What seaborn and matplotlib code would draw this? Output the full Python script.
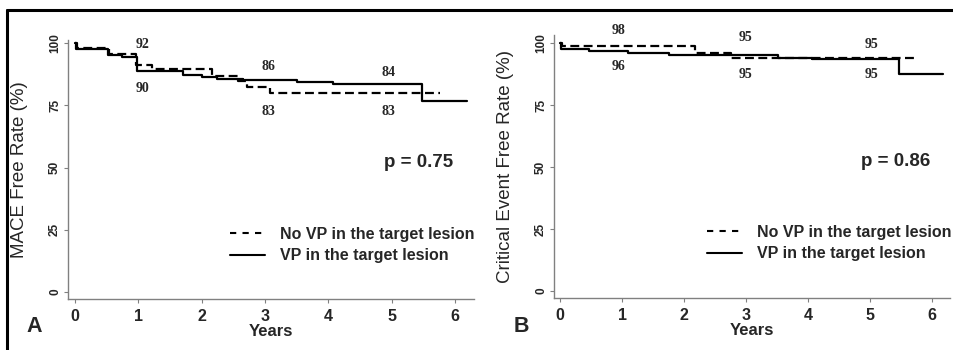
import numpy as np
import pandas as pd
import matplotlib
matplotlib.use("Agg")
import matplotlib.pyplot as plt
import seaborn as sns
from matplotlib.lines import Line2D

# ---------------- data ----------------
groups = ["No VP in the target lesion", "VP in the target lesion"]

# Panel A: MACE free rate (step changes)
a_novp_t = [0.0, 0.03, 0.53, 0.97, 1.21, 2.16, 2.58, 2.71, 3.08, 5.77]
a_novp_s = [100.0, 98.0, 95.7, 91.3, 89.4, 86.6, 84.6, 82.4, 79.8, 79.8]
a_vp_t = [0.0, 0.02, 0.52, 0.75, 0.98, 1.71, 2.0, 2.24, 2.66, 3.5, 4.07, 5.48, 6.19]
a_vp_s = [100.0, 97.6, 95.2, 94.2, 88.9, 87.0, 86.2, 85.6, 85.2, 84.4, 83.4, 76.6, 76.6]

# Panel B: critical event free rate
b_novp_t = [0.0, 0.03, 2.18, 2.75, 5.78]
b_novp_s = [100.0, 98.9, 96.2, 94.0, 94.0]
b_vp_t = [0.0, 0.02, 0.46, 1.1, 1.75, 3.52, 4.06, 5.46, 6.18]
b_vp_s = [100.0, 97.8, 96.9, 96.1, 95.5, 94.3, 93.7, 87.6, 87.6]

a_labels_txt = ["92", "90", "86", "83", "84", "83"]
a_labels_x = [1.07, 1.07, 3.05, 3.05, 4.95, 4.95]
a_labels_y = [99.2, 81.6, 90.6, 72.6, 88.2, 72.6]
b_labels_txt = ["98", "96", "95", "95", "95", "95"]
b_labels_x = [0.95, 0.95, 2.99, 2.99, 5.03, 5.03]
b_labels_y = [105.4, 90.6, 102.4, 87.6, 99.7, 87.6]

p_a = "p = 0.75"
p_b = "p = 0.86"
xticks = [0, 1, 2, 3, 4, 5, 6]
yticks = [0, 25, 50, 75, 100]

# --------------- style ----------------
sns.set_theme(style="white")
plt.rcParams["font.family"] = ["Liberation Sans", "DejaVu Sans"]

fig = plt.figure(figsize=(9.54, 3.5), dpi=100)
W, H = 954, 350
axA = fig.add_axes([68 / W, 1 - 299 / H, (474 - 68) / W, (299 - 40) / H])
axB = fig.add_axes([554 / W, 1 - 298 / H, (950 - 554) / W, (298 - 35) / H])

dash_style = (0, (4, 2))


def make_df(t1, s1, t2, s2):
    return pd.concat([
        pd.DataFrame({"t": t1, "s": s1, "g": groups[0]}),
        pd.DataFrame({"t": t2, "s": s2, "g": groups[1]}),
    ], ignore_index=True)


def draw(ax, df, xlim, ylim, ylabel, lab_txt, lab_x, lab_y, ptxt, pxy, leg_anchor, ylab_x):
    for g, ls in zip(groups, [dash_style, "-"]):
        sub = df[df.g == g]
        sns.lineplot(data=sub, x="t", y="s", ax=ax, estimator=None, sort=True,
                     color="black", linewidth=1.6, linestyle=ls,
                     drawstyle="steps-post", legend=False)
    ax.set_xlim(*xlim)
    ax.set_ylim(*ylim)
    ax.set_xticks(xticks)
    ax.set_yticks(yticks)
    ax.set_xticklabels([str(v) for v in xticks], fontsize=11.5, fontweight="bold")
    ax.set_yticklabels([str(v) for v in yticks], fontsize=8.5, fontweight="bold",
                       rotation=90, va="center")
    for sp in ["top", "right"]:
        ax.spines[sp].set_visible(False)
    for sp in ["left", "bottom"]:
        ax.spines[sp].set_color("#808080")
        ax.spines[sp].set_linewidth(1.0)
    ax.tick_params(axis="both", which="both", direction="out", length=3,
                   width=0.8, color="#808080", left=True, bottom=True)
    ax.tick_params(axis="x", pad=4)
    ax.tick_params(axis="y", pad=2)
    ax.set_xlabel("Years", fontsize=12, fontweight="bold", labelpad=0)
    ax.set_ylabel(ylabel, fontsize=13.5)
    ax.yaxis.set_label_coords(ylab_x, 0.5)
    ax.grid(False)
    for t, x, y in zip(lab_txt, lab_x, lab_y):
        ax.text(x, y, t, ha="center", va="center", fontsize=10, fontweight="bold",
                family=["Liberation Serif", "DejaVu Serif"], clip_on=False)
    ax.text(pxy[0], pxy[1], ptxt, ha="center", va="center", fontsize=13.5,
            fontweight="bold")
    handles = [Line2D([], [], color="black", lw=1.5, linestyle=(0, (3, 3))),
               Line2D([], [], color="black", lw=1.5, linestyle="-")]
    ax.legend(handles, groups, loc="upper left",
              bbox_to_anchor=leg_anchor, bbox_transform=fig.transFigure,
              frameon=False, borderpad=0, borderaxespad=0,
              handlelength=2.2, handletextpad=0.9, labelspacing=0.4,
              prop={"size": 11.5, "weight": "bold"})


dfA = make_df(a_novp_t, a_novp_s, a_vp_t, a_vp_s)
dfB = make_df(b_novp_t, b_novp_s, b_vp_t, b_vp_s)

draw(axA, dfA, (-0.11, 6.3), (-2.8, 101.2), "MACE Free Rate (%)",
     a_labels_txt, a_labels_x, a_labels_y, p_a, (5.42, 52.2),
     (230 / W, 1 - 227 / H), -0.0985)
draw(axB, dfB, (-0.097, 6.29), (-2.8, 103.4), "Critical Event Free Rate (%)",
     b_labels_txt, b_labels_x, b_labels_y, p_b, (5.42, 52.5),
     (707 / W, 1 - 225 / H), -0.101)

fig.text(34 / W, 1 - 327 / H, "A", ha="center", va="center", fontsize=15.5,
         fontweight="bold")
fig.text(521 / W, 1 - 327 / H, "B", ha="center", va="center", fontsize=15.5,
         fontweight="bold")

# outer frame (top and left borders)
fig.add_artist(Line2D([7 / W, 1.0], [1 - 10 / H, 1 - 10 / H], color="black",
                      lw=2.2, transform=fig.transFigure))
fig.add_artist(Line2D([7 / W, 7 / W], [0.0, 1 - 10 / H], color="black",
                      lw=2.2, transform=fig.transFigure))

fig.savefig("out.png", dpi=100)
